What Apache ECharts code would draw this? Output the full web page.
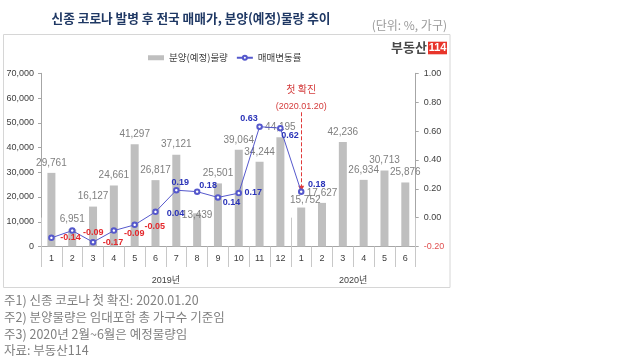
<!DOCTYPE html>
<html>
<head>
<meta charset="utf-8">
<script src="https://cdn.jsdelivr.net/npm/echarts@6/dist/echarts.min.js"></script>
<style>
html,body{margin:0;padding:0;background:#fff;}
#chart{width:640px;height:360px;}
</style>
</head>
<body>
<div id="chart"></div>
<script>
// ---- data ----
const title = '신종 코로나 발병 후 전국 매매가, 분양(예정)물량 추이';
const unitText = '(단위: %, 가구)';
const months = ['1','2','3','4','5','6','7','8','9','10','11','12','1','2','3','4','5','6'];
const years = ['2019년', '2020년'];
const monthsPerYear = [12, 6];
const supply = [29761, 6951, 16127, 24661, 41297, 26817, 37121, 13439, 25501, 39064, 34244, 44195, 15752, 17627, 42236, 26934, 30713, 25876];
const priceChange = [-0.14, -0.09, -0.17, -0.09, -0.05, 0.04, 0.19, 0.18, 0.14, 0.17, 0.63, 0.62, 0.18];
const leftAxisRange = [0, 70000, 10000];
const rightAxisRange = [-0.2, 1.0, 0.2];
const firstCaseIndex = 12;
const firstCaseText = ['첫 확진', '(2020.01.20)'];
const notes = [
  '주1) 신종 코로나 첫 확진: 2020.01.20',
  '주2) 분양물량은 임대포함 총 가구수 기준임',
  '주3) 2020년 2월~6월은 예정물량임',
  '자료: 부동산114'
];

// ---- layout / styles ----
const FONT = "'Liberation Sans', 'Noto Sans CJK KR', sans-serif";
const KFONT = "'Noto Sans CJK KR', 'Liberation Sans', sans-serif";
const lineLabelOffsets = [[19,-0.5],[21,1.5],[20,0.5],[20.5,2.5],[20,1.5],[20,1.5],[4,-7.5],[11,-6.5],[13.5,5],[14.5,-0.5],[-10.5,-8.5],[9.5,7.5],[15.5,-7.5]];
const barLabelOffsets = {7: [0, 12], 12: [4, 3]};

// year axis categories (boundary points)
const totalMonths = monthsPerYear.reduce((a,b)=>a+b,0);
const yearAxisData = new Array(totalMonths + 1).fill('');
const boundaries = [0];
let s = 0;
years.forEach((y, i) => {
  yearAxisData[s + monthsPerYear[i] / 2] = y;
  s += monthsPerYear[i];
  boundaries.push(s);
});

const chart = echarts.init(document.getElementById('chart'), null, {renderer: 'canvas'});

const barData = supply.map((v, i) => barLabelOffsets[i] ? {value: v, label: {offset: barLabelOffsets[i]}} : v);
const lineData = priceChange.map((v, i) => ({
  value: v,
  label: {offset: lineLabelOffsets[i], color: v < 0 ? '#e4282c' : '#2a33b8'}
}));

const option = {
  animation: false,
  textStyle: {fontFamily: FONT},
  grid: {left: 41, right: 224.3, top: 73.3, bottom: 113.5, containLabel: false, outerBoundsMode: 'none'},
  legend: {
    left: 148, top: 53, padding: 0,
    itemWidth: 16, itemHeight: 5, itemGap: 8,
    textStyle: {fontSize: 9.5, color: '#404040', fontFamily: KFONT},
    data: [{name: '분양(예정)물량', icon: 'rect'}, {name: '매매변동률'}]
  },
  xAxis: [
    {
      type: 'category', data: months, position: 'bottom', boundaryGap: true,
      axisLine: {lineStyle: {color: '#a6a6a6', width: 1}},
      axisTick: {show: true, interval: 0, length: 20.5, lineStyle: {color: '#c8c8c8'}},
      axisLabel: {interval: 0, fontSize: 9, color: '#404040', margin: 8}
    },
    {
      type: 'category', data: yearAxisData, position: 'bottom', boundaryGap: false, offset: 0,
      axisLine: {show: false},
      axisTick: {show: true, length: 41, interval: (idx) => boundaries.includes(idx), lineStyle: {color: '#c8c8c8'}},
      axisLabel: {interval: 0, fontSize: 9, color: '#404040', margin: 29.5, fontFamily: FONT}
    }
  ],
  yAxis: [
    {
      type: 'value', min: leftAxisRange[0], max: leftAxisRange[1], interval: leftAxisRange[2],
      splitLine: {show: false},
      axisLine: {show: true, lineStyle: {color: '#a6a6a6'}},
      axisTick: {show: true, length: 3, lineStyle: {color: '#a6a6a6'}},
      axisLabel: {fontSize: 9, color: '#404040', margin: 7,
        formatter: v => v.toLocaleString('en-US')}
    },
    {
      type: 'value', min: rightAxisRange[0], max: rightAxisRange[1], interval: rightAxisRange[2],
      position: 'right',
      splitLine: {show: false},
      axisLine: {show: true, lineStyle: {color: '#a6a6a6'}},
      axisTick: {show: true, length: 3, lineStyle: {color: '#a6a6a6'}},
      axisLabel: {fontSize: 9, margin: 8,
        color: v => (Number(v) < -0.1 ? '#e05050' : '#404040'),
        formatter: v => Number(v).toFixed(2)}
    }
  ],
  series: [
    {
      name: '분양(예정)물량', type: 'bar', data: barData, barWidth: 8,
      itemStyle: {color: '#bfbfbf'},
      label: {show: true, position: 'top', distance: 5, fontSize: 10, color: '#7f7f7f',
        formatter: p => Number(p.value).toLocaleString('en-US')}
    },
    {
      name: '매매변동률', type: 'line', yAxisIndex: 1, data: lineData,
      symbol: 'emptyCircle', symbolSize: 4.5,
      itemStyle: {color: '#5558cc', borderWidth: 1},
      lineStyle: {color: '#5558cc', width: 1},
      z: 5,
      label: {show: true, position: 'inside', fontSize: 9, fontWeight: 'bold',
        formatter: p => Number(p.value).toFixed(2)},
      markLine: {
        silent: true, animation: false,
        symbol: ['none', 'triangle'], symbolSize: [6, 6],
        lineStyle: {type: 'dashed', color: '#e03a3a', width: 1},
        label: {
          show: true, position: 'start', distance: -1,
          formatter: '{a|' + firstCaseText[0] + '}\n{b|' + firstCaseText[1] + '}',
          rich: {
            a: {fontSize: 10, color: '#d43c3c', lineHeight: 20, fontFamily: KFONT},
            b: {fontSize: 9, color: '#d43c3c', lineHeight: 14, fontFamily: FONT}
          }
        },
        data: [[{coord: [firstCaseIndex, 0.73]}, {coord: [firstCaseIndex, 0.2]}]]
      }
    }
  ],
  graphic: [
    {type: 'rect', z: -1, silent: true, shape: {x: 3.5, y: 34.5, width: 446.5, height: 253}, style: {fill: 'none', stroke: '#d6d6d6', lineWidth: 1}},
    {type: 'text', silent: true, left: 51.5, top: 12.3, style: {text: title, font: "bold 12.7px " + KFONT, fill: '#1f3864'}},
    {type: 'text', silent: true, right: 640 - 447, top: 19.5, style: {text: unitText, font: "12px " + KFONT, fill: '#999999'}},
    {type: 'text', silent: true, right: 640 - 427, top: 40.5, style: {text: '부동산', font: "bold 13px " + KFONT, fill: '#4a4a4a'}},
    {type: 'rect', silent: true, shape: {x: 428, y: 41.7, width: 19, height: 12.6}, style: {fill: '#e8352b'}},
    {type: 'text', silent: true, x: 437.5, y: 48, style: {text: '114', font: "bold 11px " + FONT, fill: '#ffffff', align: 'center', verticalAlign: 'middle'}},
  ].concat(notes.map((t, i) => ({
    type: 'text', silent: true, left: 4, top: 294.2 + i * 16.7,
    style: {text: t, font: "12.5px " + KFONT, fill: '#808080'}
  })))
};
chart.setOption(option);
</script>
</body>
</html>
